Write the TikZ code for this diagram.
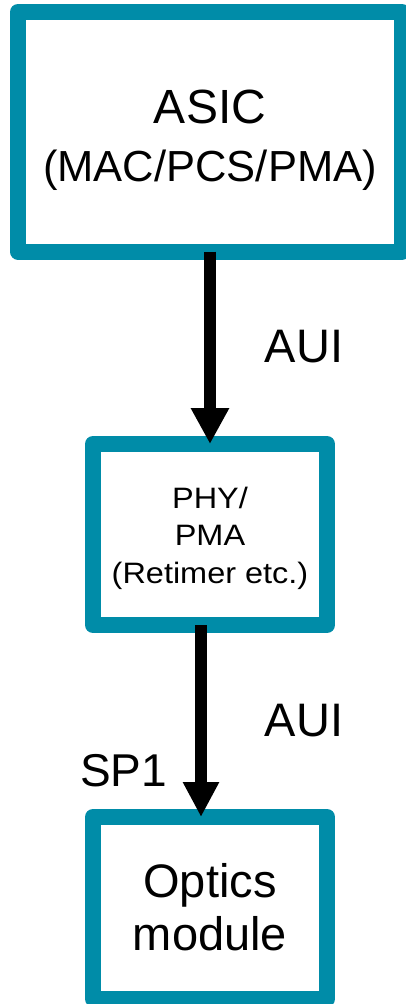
\documentclass[tikz,border=0pt]{standalone}
\usepackage{fontspec}
\usepackage{graphicx}
\setmainfont{Liberation Sans}
\usetikzlibrary{arrows.meta}
\definecolor{boxteal}{RGB}{0,140,168}
\begin{document}
\begin{tikzpicture}[x=1pt,y=-1pt,
  box/.style={draw=boxteal,line width=16pt,line join=round,fill=white,inner sep=0pt,outer sep=0pt},
  arrA/.style={line width=12pt,-{Triangle[width=36pt,length=36pt]}},
  arrB/.style={line width=12pt,-{Triangle[width=34pt,length=35pt]}},
  txt/.style={inner sep=0pt,anchor=base},
  fbig/.style={font=\fontsize{48}{52}\selectfont},
  fmid/.style={font=\fontsize{43.5}{48}\selectfont},
  flbl/.style={font=\fontsize{47}{52}\selectfont},
  fsmall/.style={font=\fontsize{29.5}{33}\selectfont}]
\useasboundingbox (0,0) rectangle (405,1004);
% boxes
\node[box,minimum width=384pt,minimum height=239.5pt] (asic) at (210,131.75) {};
\node[box,minimum width=234pt,minimum height=181pt] (phy) at (210,534.5) {};
\node[box,minimum width=234pt,minimum height=182pt] (opt) at (210,908) {};
% connectors
\draw[arrA] (asic.south) -- (phy.north);
\draw[arrB] ([xshift=-9pt]phy.south) -- ([xshift=-9pt]opt.north);
% box texts
\node[txt,fbig] (asicA) at (210,123) {ASIC};
\node[txt,fmid] (asicB) at (210,181.5) {(MAC/PCS/PMA)};
\node[txt,fsmall] (phyA) at (210,508) {\scalebox{1.1}[1]{PHY/}};
\node[txt,fsmall] (phyB) at (210,545.5) {\scalebox{1.1}[1]{PMA}};
\node[txt,fsmall] (phyC) at (210,583) {\scalebox{1.1}[1]{(Retimer etc.)}};
\node[txt,flbl] (optA) at (210,897) {Optics};
\node[txt,flbl] (optB) at (210,950) {module};
% labels
\node[txt,flbl] (aui1) at (304,362) {AUI};
\node[txt,flbl] (aui2) at (304,736) {AUI};
\node[txt,fmid,font=\fontsize{46}{50}\selectfont] (sp1) at (123.5,786) {SP1};
\end{tikzpicture}
\end{document}
